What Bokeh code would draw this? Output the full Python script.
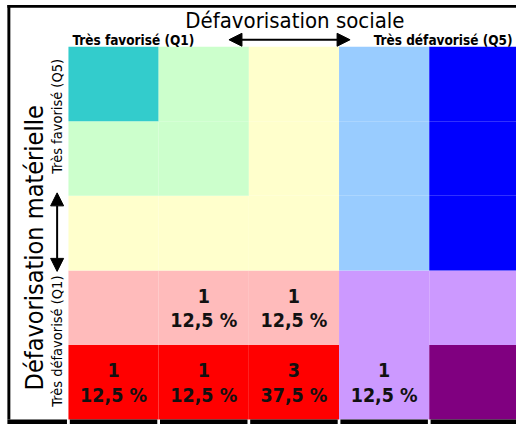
from bokeh.plotting import figure
from bokeh.models import Range1d, Arrow, NormalHead, ColumnDataSource
from bokeh.core.properties import value
from bokeh.embed import file_html
from bokeh.resources import INLINE
import math

# ---- data ----
social_q = ["Q1", "Q2", "Q3", "Q4", "Q5"]          # columns, left -> right
material_q = ["Q1", "Q2", "Q3", "Q4", "Q5"]        # rows, bottom -> top

# colours per row, listed from bottom row (Q1) to top row (Q5)
row_colors = [
    ["#FF0000", "#FF0000", "#FF0000", "#CC99FF", "#800080"],  # Q1
    ["#FFBBBB", "#FFBBBB", "#FFBBBB", "#CC99FF", "#CC99FF"],  # Q2
    ["#FFFFCC", "#FFFFCC", "#FFFFCC", "#99CCFF", "#0000FF"],  # Q3
    ["#CCFFCC", "#CCFFCC", "#FFFFCC", "#99CCFF", "#0000FF"],  # Q4
    ["#33CCCC", "#CCFFCC", "#FFFFCC", "#99CCFF", "#0000FF"],  # Q5
]

count_social = ["Q2", "Q3", "Q1", "Q2", "Q3", "Q4"]
count_material = ["Q2", "Q2", "Q1", "Q1", "Q1", "Q1"]
count_values = [1, 1, 1, 1, 3, 1]

title_text = "Défavorisation sociale"
ylabel_text = "Défavorisation matérielle"
x_low_text = "Très favorisé (Q1)"
x_high_text = "Très défavorisé (Q5)"
y_high_text = "Très favorisé (Q5)"
y_low_text = "Très défavorisé (Q1)"

FONT = value("DejaVu Sans Condensed")

# ---- geometry helpers (reference pixels -> data units) ----
UX, UY = 91.6, 76.0
def dx(px):
    return (px - 69.0) / UX
def dy(py):
    return (427.0 - py) / UY

W, H = 516, 424
p = figure(width=W, height=H,
           x_range=Range1d(dx(0), dx(524)), y_range=Range1d(dy(432), dy(0)),
           output_backend="svg", toolbar_location=None, min_border=0,
           x_axis_location=None, y_axis_location=None)
p.grid.visible = False
p.outline_line_color = None
p.background_fill_color = "white"
p.border_fill_color = "white"

# cells
left, right, bottom, top, fill = [], [], [], [], []
for r, row in enumerate(row_colors):
    for c, col in enumerate(row):
        left.append(c); right.append(c + 1)
        bottom.append(r); top.append(r + 1)
        fill.append(col)
p.quad(left=left, right=right, bottom=bottom, top=top, fill_color=fill,
       line_color=None)

# counts text
total = sum(count_values)
cx = [social_q.index(s) + 0.5 for s in count_social]
cy = [material_q.index(m) + 0.5 for m in count_material]
pct = [("%.1f" % (v / total * 100)).replace(".", ",") + " %" for v in count_values]
src = ColumnDataSource(dict(x=cx, y=cy, n=[str(v) for v in count_values], pct=pct))
p.text(x="x", y="y", text="n", source=src, text_align="center", text_baseline="middle",
       y_offset=-12, text_font=FONT, text_font_style="bold",
       text_font_size="19.5px", text_color="#111111")
p.text(x="x", y="y", text="pct", source=src, text_align="center", text_baseline="middle",
       y_offset=13, text_font=FONT, text_font_style="bold",
       text_font_size="19.5px", text_color="#111111")

# borders
p.quad(left=[dx(7)], right=[dx(524)], bottom=[dy(7.5)], top=[dy(4.5)],
       fill_color="black", line_color=None)
p.quad(left=[dx(7)], right=[dx(10)], bottom=[dy(427)], top=[dy(4.5)],
       fill_color="black", line_color=None)
bl = [dx(7)] + [i + 0.015 for i in range(5)]
br = [dx(67.5)] + [i + 1 - 0.015 for i in range(5)]
p.quad(left=bl, right=br, bottom=[dy(432)] * 6, top=[dy(427)] * 6,
       fill_color="black", line_color=None)

# titles
p.text(x=[dx(299)], y=[dy(20)], text=[title_text], text_align="center",
       text_baseline="middle", text_font=FONT,
       text_font_size="22px", text_color="black")
p.text(x=[dx(73)], y=[dy(40)], text=[x_low_text], text_align="left",
       text_baseline="middle", text_font=FONT, text_font_style="bold",
       text_font_size="13.5px", text_color="black")
p.text(x=[dx(520)], y=[dy(40)], text=[x_high_text], text_align="right",
       text_baseline="middle", text_font=FONT, text_font_style="bold",
       text_font_size="13.5px", text_color="black")

p.text(x=[dx(35)], y=[dy(252)], text=[ylabel_text], angle=math.pi / 2,
       text_align="center", text_baseline="middle", text_font=FONT,
       text_font_size="25px", text_color="black")
p.text(x=[dx(57)], y=[dy(118)], text=[y_high_text], angle=math.pi / 2,
       text_align="center", text_baseline="middle", text_font=FONT,
       text_font_size="14.5px", text_color="black")
p.text(x=[dx(57)], y=[dy(347)], text=[y_low_text], angle=math.pi / 2,
       text_align="center", text_baseline="middle", text_font=FONT,
       text_font_size="14.5px", text_color="black")

# arrows
p.add_layout(Arrow(x_start=dx(232), y_start=dy(40), x_end=dx(355), y_end=dy(40),
                   line_width=2, line_color="black",
                   start=NormalHead(size=13, fill_color="black", line_color="black"),
                   end=NormalHead(size=13, fill_color="black", line_color="black")))
p.add_layout(Arrow(x_start=dx(57.5), y_start=dy(196), x_end=dx(57.5), y_end=dy(276),
                   line_width=2, line_color="black",
                   start=NormalHead(size=13, fill_color="black", line_color="black"),
                   end=NormalHead(size=13, fill_color="black", line_color="black")))

open("out.html", "w").write(file_html(p, INLINE))
